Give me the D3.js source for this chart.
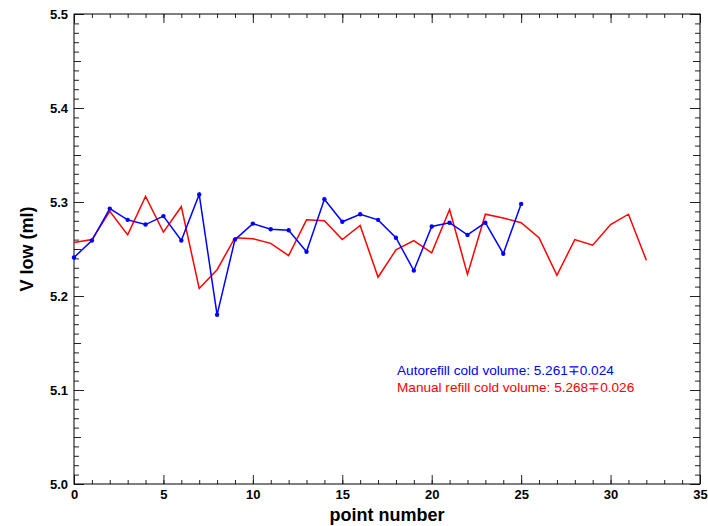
<!DOCTYPE html>
<html>
<head>
<meta charset="utf-8">
<script src="https://cdn.jsdelivr.net/npm/d3@7"></script>
<style>
  html, body { margin: 0; padding: 0; background: #fff; }
  svg { display: block; }
  text { font-family: "Liberation Sans", Arial, Helvetica, sans-serif; }
</style>
</head>
<body>
<svg id="chart" width="708" height="526"></svg>
<script>
// Autorefill measurements (blue, with point markers)
const autoPoints = [0,1,2,3,4,5,6,7,8,9,10,11,12,13,14,15,16,17,18,19,20,21,22,23,24,25];
const autoValues = [5.241,5.259,5.293,5.281,5.276,5.285,5.259,5.308,5.180,5.260,5.277,5.271,5.270,5.247,5.303,5.279,5.287,5.281,5.262,5.227,5.274,5.278,5.265,5.278,5.245,5.298];

// Manual refill measurements (red line)
const manualPoints = [0,1,2,3,4,5,6,7,8,9,10,11,12,13,14,15,16,17,18,19,20,21,22,23,24,25,26,27,28,29,30,31,32];
const manualValues = [5.257,5.260,5.290,5.265,5.306,5.268,5.295,5.208,5.228,5.262,5.261,5.256,5.243,5.281,5.280,5.260,5.275,5.220,5.249,5.259,5.246,5.292,5.223,5.287,5.283,5.278,5.262,5.222,5.260,5.254,5.276,5.287,5.238];

// Axis ticks
const xMajorTicks = [0,5,10,15,20,25,30,35];
const yMajorTicks = [5.0,5.1,5.2,5.3,5.4,5.5];
const yMajorLabels = ["5.0","5.1","5.2","5.3","5.4","5.5"];

// Text
const xTitle = "point number";
const yTitle = "V low (ml)";
const legendLines = [
  { text: "Autorefill cold volume: 5.261\u22130.024", color: "#0000ff" },
  { text: "Manual refill cold volume: 5.268\u22130.026", color: "#ff0000" }
];

const svg = d3.select("#chart");
const plotLeft = 74, plotRight = 700, plotTop = 14, plotBottom = 484;

const x = d3.scaleLinear().domain([0, 35]).range([plotLeft, plotRight]);
const y = d3.scaleLinear().domain([5.0, 5.5]).range([plotBottom, plotTop]);

const xMinor = d3.range(0, 36, 1);
const yMinor = d3.range(0, 51, 1).map(i => +(5 + i * 0.01).toFixed(2));
const yMid = d3.range(0, 5).map(i => +(5.05 + i * 0.1).toFixed(2));

function styleAxis(g) {
  g.select(".domain").remove();
  g.selectAll(".tick line").attr("stroke", "#222").attr("stroke-width", 1);
}

// Bottom axis: minor ticks, then labelled major ticks (all pointing inward)
svg.append("g").attr("transform", `translate(0,${plotBottom})`)
  .call(d3.axisBottom(x).tickValues(xMinor).tickSize(-4).tickFormat(""))
  .call(styleAxis);
svg.append("g").attr("transform", `translate(0,${plotBottom})`)
  .call(d3.axisBottom(x).tickValues(xMajorTicks).tickSize(-9).tickPadding(6).tickFormat(d3.format("d")))
  .call(styleAxis)
  .call(g => g.selectAll("text").attr("fill", "#000").attr("font-size", 13).attr("font-weight", "bold"));

// Top axis mirrors the bottom ticks
svg.append("g").attr("transform", `translate(0,${plotTop})`)
  .call(d3.axisTop(x).tickValues(xMinor).tickSize(-4).tickFormat(""))
  .call(styleAxis);
svg.append("g").attr("transform", `translate(0,${plotTop})`)
  .call(d3.axisTop(x).tickValues(xMajorTicks).tickSize(-9).tickFormat(""))
  .call(styleAxis);

// Left axis
svg.append("g").attr("transform", `translate(${plotLeft},0)`)
  .call(d3.axisLeft(y).tickValues(yMinor).tickSize(-5).tickFormat(""))
  .call(styleAxis);
svg.append("g").attr("transform", `translate(${plotLeft},0)`)
  .call(d3.axisLeft(y).tickValues(yMid).tickSize(-7).tickFormat(""))
  .call(styleAxis);
svg.append("g").attr("transform", `translate(${plotLeft},0)`)
  .call(d3.axisLeft(y).tickValues(yMajorTicks).tickSize(-10).tickPadding(6)
    .tickFormat((d, i) => yMajorLabels[i]))
  .call(styleAxis)
  .call(g => g.selectAll("text").attr("fill", "#000").attr("font-size", 13).attr("font-weight", "bold"));

// Right axis mirrors the left ticks
svg.append("g").attr("transform", `translate(${plotRight},0)`)
  .call(d3.axisRight(y).tickValues(yMinor).tickSize(-5).tickFormat(""))
  .call(styleAxis);
svg.append("g").attr("transform", `translate(${plotRight},0)`)
  .call(d3.axisRight(y).tickValues(yMid).tickSize(-7).tickFormat(""))
  .call(styleAxis);
svg.append("g").attr("transform", `translate(${plotRight},0)`)
  .call(d3.axisRight(y).tickValues(yMajorTicks).tickSize(-10).tickFormat(""))
  .call(styleAxis);

// Frame
svg.append("rect")
  .attr("x", plotLeft).attr("y", plotTop)
  .attr("width", plotRight - plotLeft).attr("height", plotBottom - plotTop)
  .attr("fill", "none").attr("stroke", "#000").attr("stroke-width", 1);

// Series lines
const line = d3.line().x(d => x(d[0])).y(d => y(d[1]));
const manualData = manualPoints.map((p, i) => [p, manualValues[i]]);
const autoData = autoPoints.map((p, i) => [p, autoValues[i]]);

svg.append("path").datum(manualData)
  .attr("d", line).attr("fill", "none")
  .attr("stroke", "#ff0000").attr("stroke-width", 1.5).attr("stroke-linejoin", "miter");

svg.append("path").datum(autoData)
  .attr("d", line).attr("fill", "none")
  .attr("stroke", "#0000ff").attr("stroke-width", 1.5).attr("stroke-linejoin", "miter");

svg.append("g").selectAll("circle").data(autoData).join("circle")
  .attr("cx", d => x(d[0])).attr("cy", d => y(d[1]))
  .attr("r", 2.2).attr("fill", "#0000ff");

// Axis titles
svg.append("text")
  .attr("x", (plotLeft + plotRight) / 2).attr("y", 521)
  .attr("text-anchor", "middle")
  .attr("font-size", 18).attr("font-weight", "bold")
  .text(xTitle);

svg.append("text")
  .attr("transform", `translate(33,${(plotTop + plotBottom) / 2}) rotate(-90)`)
  .attr("text-anchor", "middle")
  .attr("font-size", 18).attr("font-weight", "bold")
  .text(yTitle);

// Summary annotations
svg.append("g").selectAll("text").data(legendLines).join("text")
  .attr("x", 397).attr("y", (d, i) => 375 + i * 17)
  .attr("font-size", 13.6)
  .attr("fill", d => d.color)
  .text(d => d.text);
</script>
</body>
</html>
